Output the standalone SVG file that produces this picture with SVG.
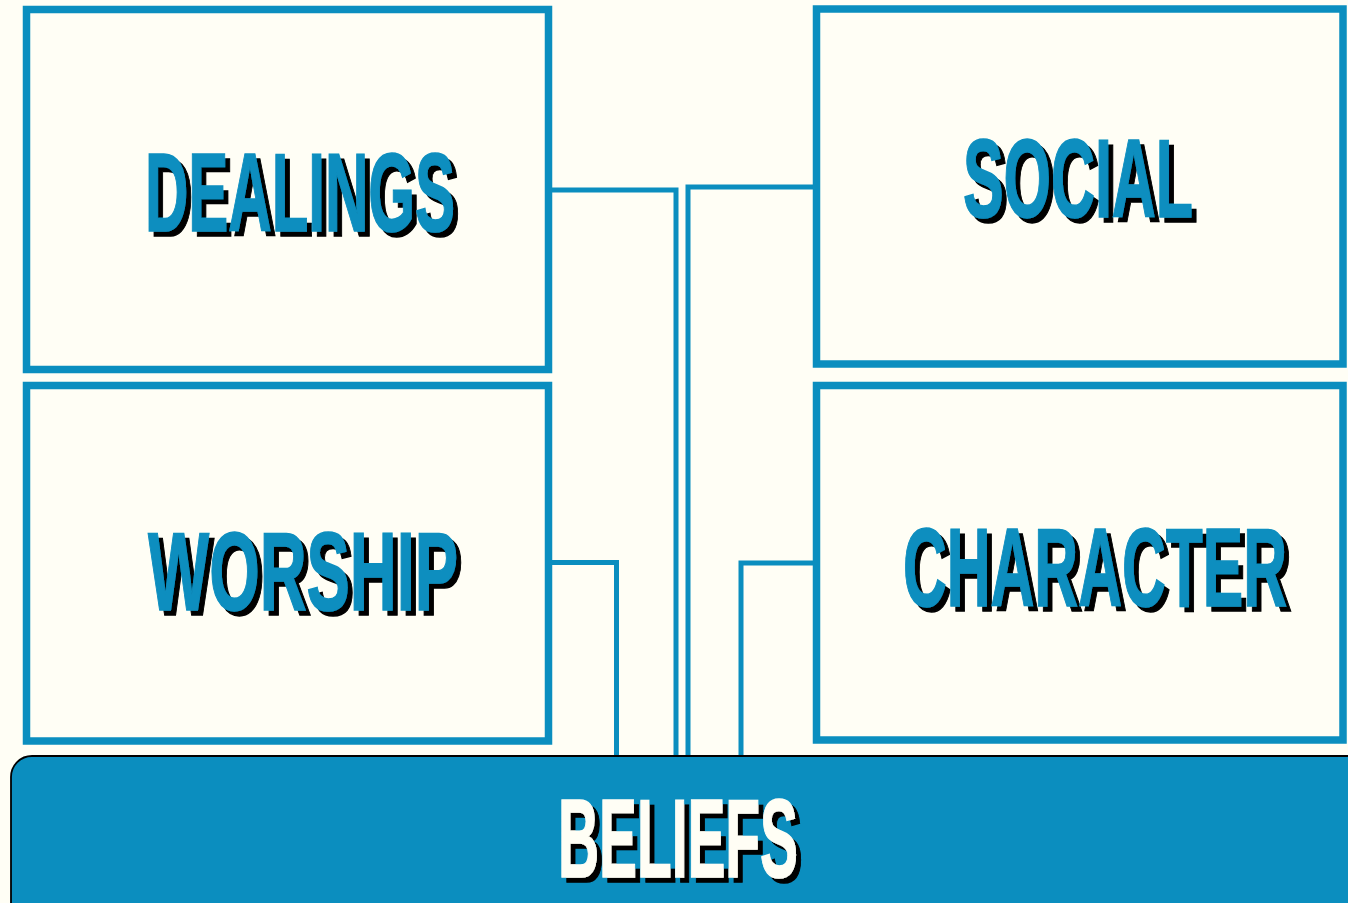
<svg xmlns="http://www.w3.org/2000/svg" width="1348" height="903" viewBox="0 0 1348 903">
<defs>
<filter id="shadow" x="-5%" y="-10%" width="115%" height="130%">
<feOffset in="SourceAlpha" dx="4.5" dy="4.5" result="off"/>
<feFlood flood-color="#000"/>
<feComposite in2="off" operator="in" result="sh"/>
<feMerge><feMergeNode in="sh"/><feMergeNode in="SourceGraphic"/></feMerge>
</filter>
</defs>
<style>
.box{fill:#fffef5;stroke:#0b8ebf;stroke-width:7.5}
.conn{fill:none;stroke:#0b8ebf;stroke-width:5}
.lbl{font-family:"Liberation Sans",Arial,sans-serif;font-weight:bold;font-size:112px;filter:url(#shadow);stroke-width:1.5}
.blue{fill:#0b8ebf;stroke:#0b8ebf}
.white{fill:#fffef5;stroke:#fffef5}
</style>
<rect width="1348" height="903" fill="#fffef5"/>
<g id="connectors">
<polyline class="conn" points="550,190 676,190 676,757"/>
<polyline class="conn" points="815,187 688,187 688,757"/>
<polyline class="conn" points="550,562.5 616.5,562.5 616.5,757"/>
<polyline class="conn" points="815,563 741,563 741,757"/>
</g>
<g id="dealings">
<rect class="box" x="26.5" y="9.5" width="522" height="360"/>
<text class="lbl blue" x="145" y="231" textLength="310" lengthAdjust="spacingAndGlyphs">DEALINGS</text>
</g>
<g id="worship">
<rect class="box" x="26.5" y="385.5" width="522" height="355.5"/>
<text class="lbl blue" x="148" y="610" textLength="310" lengthAdjust="spacingAndGlyphs">WORSHIP</text>
</g>
<g id="social">
<rect class="box" x="816.5" y="9" width="526.5" height="355"/>
<text class="lbl blue" x="963" y="217" textLength="230" lengthAdjust="spacingAndGlyphs">SOCIAL</text>
</g>
<g id="character">
<rect class="box" x="816.5" y="385.5" width="526.5" height="354.5"/>
<text class="lbl blue" x="903" y="606" textLength="384" lengthAdjust="spacingAndGlyphs">CHARACTER</text>
</g>
<g id="beliefs">
<rect x="11" y="756" width="1360" height="170" rx="21" ry="21" fill="#0b8ebf" stroke="#000" stroke-width="1.8"/>
<text class="lbl white" x="558" y="877" textLength="240" lengthAdjust="spacingAndGlyphs">BELIEFS</text>
</g>
</svg>
